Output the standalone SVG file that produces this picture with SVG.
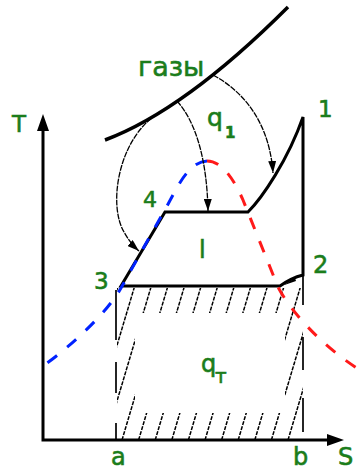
<svg xmlns="http://www.w3.org/2000/svg" width="359" height="470" viewBox="0 0 359 470">
<defs>
<style>
.lbl{font-family:"DejaVu Sans",Verdana,sans-serif;fill:#1b7d1b;stroke:#1b7d1b;stroke-width:0.6;}
.thick{fill:none;stroke:#000;stroke-width:3;stroke-linejoin:miter;}
.thin{fill:none;stroke:#000;stroke-width:1.3;stroke-dasharray:6 1;}
.hatch{fill:none;stroke:#000;stroke-width:1.5;stroke-dasharray:4 1.2;}
.vb{fill:none;stroke:#000;stroke-width:1.7;}
.dash{fill:none;stroke-width:3;stroke-dasharray:12 13;}
</style>
<marker id="ah" viewBox="0 0 12 8" refX="12" refY="4" markerWidth="12" markerHeight="8" markerUnits="userSpaceOnUse" orient="auto"><path d="M0,0 L12,4 L0,8 Z" fill="#000"/></marker>
<clipPath id="hc"><path clip-rule="evenodd" d="M117,288 H303 V440 H117 Z M135,313 H285 V413 H135 Z"/></clipPath>
</defs>
<rect width="359" height="470" fill="#fff"/>
<g id="hatching">
<path class="hatch" clip-path="url(#hc)" d="M72.2,440 L118.4,285 M88.8,440 L135,285 M105.4,440 L151.6,285 M122,440 L168.2,285 M138.6,440 L184.8,285 M155.2,440 L201.4,285 M171.8,440 L218,285 M188.4,440 L234.6,285 M205,440 L251.2,285 M221.6,440 L267.8,285 M238.2,440 L284.4,285 M254.8,440 L301,285 M271.4,440 L317.6,285 M288,440 L334.2,285"/>
<path class="vb" d="M116,290 V340 M116,362 V393 M116,423 V440 M303,275 V305 M303,337 V370 M303,398 V432"/>
</g>
<g id="cycle">
<path class="thick" d="M121,286 L165,212 L248,212 C262,198 288,160 303,117 L303,275 Q291,278 280,286 Z"/>
<path d="M283,285.5 L295,278 L296,281 Z" fill="#000"/>
</g>
<g id="dome">
<path class="dash" stroke="#0022ff" d="M207,161 C188,162 177,188 167,206 L121,288 C107,313 70,347 43,366"/>
<path class="dash" stroke="#ff1a1a" d="M207,161 C220,161 232,175 243,200 L278,287 C290,310 320,345 360,370"/>
</g>
<g id="gases">
<path fill="none" stroke="#000" stroke-width="3.5" d="M105,140 Q185,110 288,7"/>
</g>
<g id="connectors">
<path class="thin" marker-end="url(#ah)" d="M157,114 C118,140 108,205 124,232 Q130,243 139,251"/>
<path class="thin" marker-end="url(#ah)" d="M177,101 C196,122 207,160 208,211"/>
<path class="thin" marker-end="url(#ah)" d="M213,75 C250,95 270,130 273,173"/>
</g>
<g id="axes">
<path fill="none" stroke="#000" stroke-width="3" d="M43,128 V441.5 M41.5,440 H330"/>
<path d="M43,114 L37,131 L49,131 Z M344,440 L327,434 L327,446 Z" fill="#000"/>
</g>
<g id="labels">
<text class="lbl" x="12" y="132" font-size="23">T</text>
<text class="lbl" x="138" y="76" font-size="27">газы</text>
<text class="lbl" x="207" y="126" font-size="25">q</text>
<text class="lbl" x="225" y="138" font-size="15" font-weight="bold">1</text>
<text class="lbl" x="318" y="117" font-size="23">1</text>
<text class="lbl" x="143" y="207" font-size="22">4</text>
<text class="lbl" x="199" y="258" font-size="24">l</text>
<text class="lbl" x="313" y="273" font-size="24">2</text>
<text class="lbl" x="94" y="289" font-size="23">3</text>
<text class="lbl" x="201" y="372" font-size="24">q</text>
<text class="lbl" x="215" y="383" font-size="20">т</text>
<text class="lbl" x="111" y="465" font-size="24">a</text>
<text class="lbl" x="293" y="465" font-size="24">b</text>
<text class="lbl" x="338" y="465" font-size="24">S</text>
</g>
</svg>
